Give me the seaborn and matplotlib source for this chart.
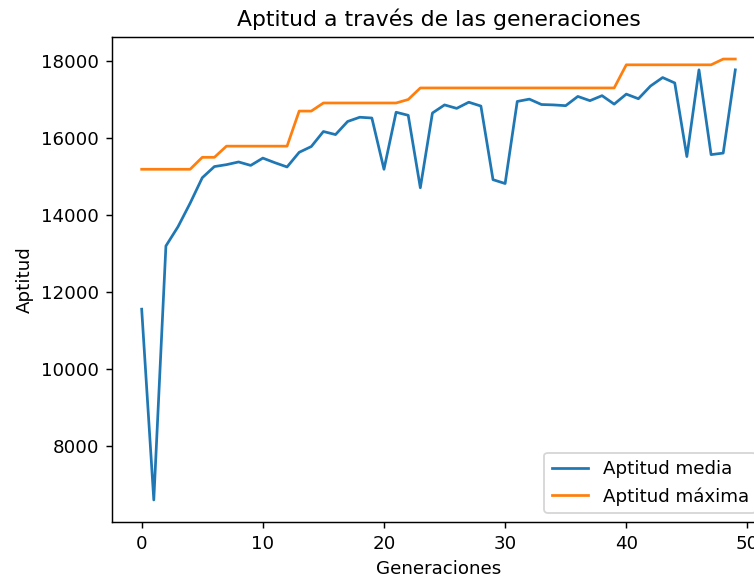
import matplotlib
matplotlib.use("Agg")
import matplotlib.pyplot as plt
import seaborn as sns
import pandas as pd

generaciones = list(range(50))
aptitud_media = [11550, 6600, 13190, 13690, 14300, 14960, 15250, 15300, 15370, 15280,
                 15470, 15350, 15240, 15620, 15770, 16160, 16080, 16420, 16530, 16510,
                 15180, 16660, 16580, 14700, 16640, 16850, 16760, 16920, 16820, 14910,
                 14810, 16940, 17000, 16860, 16850, 16830, 17070, 16960, 17090, 16870,
                 17130, 17010, 17340, 17560, 17420, 15510, 17760, 15560, 15600, 17760]
aptitud_maxima = [15180, 15180, 15180, 15180, 15180, 15490, 15490, 15780, 15780, 15780,
                  15780, 15780, 15780, 16690, 16690, 16900, 16900, 16900, 16900, 16900,
                  16900, 16900, 16990, 17290, 17290, 17290, 17290, 17290, 17290, 17290,
                  17290, 17290, 17290, 17290, 17290, 17290, 17290, 17290, 17290, 17290,
                  17890, 17890, 17890, 17890, 17890, 17890, 17890, 17890, 18040, 18040]

df = pd.DataFrame({"gen": generaciones, "media": aptitud_media, "maxima": aptitud_maxima})

dpi = 131
fig = plt.figure(figsize=(754 / dpi, 580 / dpi), dpi=dpi)
ax = fig.add_axes([112 / 754, 58 / 580, 653 / 754, 485 / 580])

sns.lineplot(data=df, x="gen", y="media", ax=ax, color="#1f77b4", label="Aptitud media", linewidth=1.5)
sns.lineplot(data=df, x="gen", y="maxima", ax=ax, color="#ff7f0e", label="Aptitud máxima", linewidth=1.5)

ax.set_title("Aptitud a través de las generaciones")
ax.set_xlabel("Generaciones")
ax.set_ylabel("Aptitud")
ax.legend(loc="lower right")

fig.savefig("out.png", dpi=dpi)
